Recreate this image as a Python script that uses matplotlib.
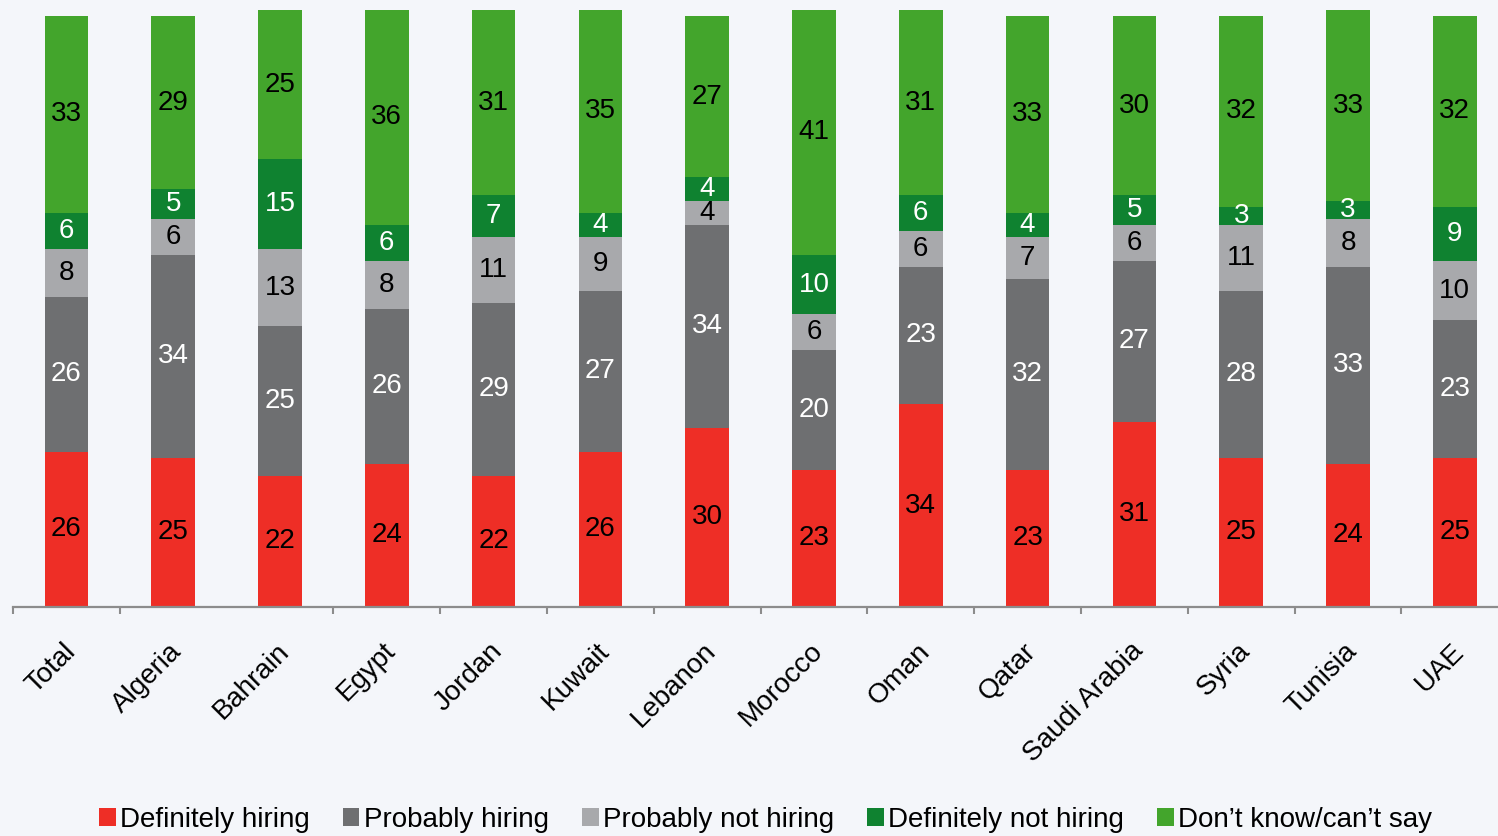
import matplotlib
matplotlib.use("Agg")
import matplotlib.pyplot as plt
import matplotlib.transforms as mtransforms
import numpy as np

plt.rcParams['font.family'] = ['Liberation Sans', 'DejaVu Sans']

paises = ["Total", "Algeria", "Bahrain", "Egypt", "Jordan", "Kuwait", "Lebanon",
          "Morocco", "Oman", "Qatar", "Saudi Arabia", "Syria", "Tunisia", "UAE"]

definitely_hiring = [26, 25, 22, 24, 22, 26, 30, 23, 34, 23, 31, 25, 24, 25]
probably_hiring = [26, 34, 25, 26, 29, 27, 34, 20, 23, 32, 27, 28, 33, 23]
probably_not = [8, 6, 13, 8, 11, 9, 4, 6, 6, 7, 6, 11, 8, 10]
definitely_not = [6, 5, 15, 6, 7, 4, 4, 10, 6, 4, 5, 3, 3, 9]
dont_know = [33, 29, 25, 36, 31, 35, 27, 41, 31, 33, 30, 32, 33, 32]

series = [
    ("Definitely hiring", definitely_hiring, "#EE2E26", "black"),
    ("Probably hiring", probably_hiring, "#6E6F71", "white"),
    ("Probably not hiring", probably_not, "#A8A9AC", "black"),
    ("Definitely not hiring", definitely_not, "#0F8230", "white"),
    ("Don\u2019t know/can\u2019t say", dont_know, "#43A52C", "black"),
]

fondo = "#F4F6FA"
fig = plt.figure(figsize=(14.98, 8.36), dpi=100, facecolor=fondo)
ax = fig.add_axes([13 / 1498, (836 - 607) / 836, 1 - 13 / 1498, 597 / 836])
ax.set_facecolor(fondo)

x = np.arange(len(paises))
base = np.zeros(len(paises))
for nombre, valores, color, color_texto in series:
    barras = ax.bar(x, valores, width=0.41, bottom=base, color=color, label=nombre)
    ax.bar_label(barras, labels=[str(v) for v in valores], label_type="center",
                 color=color_texto, fontsize=20)
    base = base + np.array(valores)

for lado in ["top", "right", "left"]:
    ax.spines[lado].set_visible(False)
ax.spines["bottom"].set_color("#8C8C8C")
ax.spines["bottom"].set_linewidth(1.6)
ax.set_yticks([])

# etiquetas en el centro, marcas entre categorias
ax.set_xticks(x)
ax.set_xticklabels(paises, rotation=45, ha="right", va="center",
                   rotation_mode="anchor", fontsize=20)
ax.tick_params(axis="x", which="major", length=0, pad=29)
marcas = [i - 0.5 for i in range(len(paises) + 1) if i != 2]
ax.set_xticks(marcas, minor=True)
ax.tick_params(axis="x", which="minor", length=5, width=1.5, color="#8C8C8C",
               direction="out")

# los limites van despues de los ticks para que no se expandan
ax.set_xlim(-0.5, -0.5 + (1498 - 13) / 106.8)
ax.set_ylim(0, 100)

desplaza = mtransforms.ScaledTranslation(5 / 100, 0, fig.dpi_scale_trans)
for etiqueta in ax.get_xticklabels():
    etiqueta.set_transform(etiqueta.get_transform() + desplaza)

fig.legend(loc="center", bbox_to_anchor=(0.511, (836 - 820) / 836), ncol=5,
           frameon=False, fontsize=20, handlelength=0.6, handleheight=0.6,
           handletextpad=0.15, columnspacing=1.2, borderaxespad=0)

fig.savefig("out.png", dpi=100, facecolor=fondo)
